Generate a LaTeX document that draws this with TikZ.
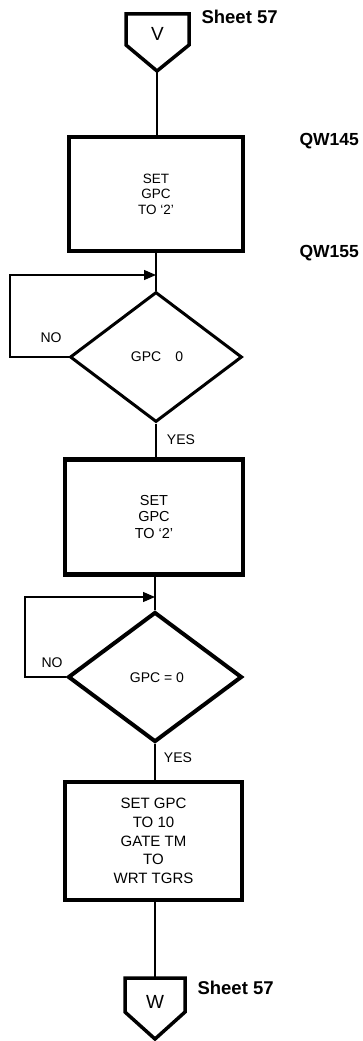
\documentclass[tikz,border=0pt]{standalone}
\usepackage{fontspec}
\setmainfont{Liberation Sans}
\usetikzlibrary{shapes.geometric,arrows.meta}
\begin{document}
\begin{tikzpicture}[x=1pt,y=-1pt,
  procbox/.style={draw,line width=4.5pt,rectangle,inner sep=0pt,align=center},
  decision/.style={draw,diamond,inner sep=0pt},
  conn/.style={line width=1.2pt},
  offpage/.style={line width=3.5pt,line join=miter},
  tag/.style={font=\bfseries\fontsize{17.5}{20}\selectfont,anchor=west},
  lbl/.style={font=\fontsize{14}{16}\selectfont},
  arr/.style={conn,-{Triangle[length=12pt,width=10pt]}}
]
\useasboundingbox (0,0) rectangle (363,1041);
\fill[white] (0,0) rectangle (363,1041);

% off-page connector V
\coordinate (v1) at (126,14);
\coordinate (v2) at (189,14);
\coordinate (v3) at (189,45);
\coordinate (vtip) at (157,71);
\coordinate (v5) at (126,45);
\draw[offpage] (v1) -- (v2) -- (v3) -- (vtip) -- (v5) -- cycle;
\node[font=\fontsize{19}{20}\selectfont] (V) at (157.5,34) {V};
\node[tag,font=\bfseries\fontsize{18.5}{20}\selectfont] (s1) at (198,17) {Sheet 57};

% box 1
\node[procbox,minimum width=174pt,minimum height=114pt,
  font=\fontsize{13.5}{15.5}\selectfont] (b1) at (156,194)
  {SET\\GPC\\TO `2'};
\node[tag] (q1) at (296,141) {QW145};
\node[tag] (q2) at (296,253) {QW155};

% decision 1
\node[decision,line width=3pt,minimum width=172pt,minimum height=130pt,
  aspect=1.32] (d1) at (156,357) {};
\node[font=\fontsize{14}{16}\selectfont] (d1t) at (157,357) {GPC\quad 0};
\node[lbl] (no1) at (51,338) {NO};
\node[lbl] (yes1) at (181,440) {YES};

% box 2
\node[procbox,minimum width=178pt,minimum height=115pt,
  font=\fontsize{14.5}{16.5}\selectfont] (b2) at (154,517)
  {SET\\GPC\\TO `2'};

% decision 2
\node[decision,line width=4pt,minimum width=174pt,minimum height=130pt,
  aspect=1.34] (d2) at (155,677) {};
\node[font=\fontsize{14}{16}\selectfont] (d2t) at (157,678) {GPC = 0};
\node[lbl] (no2) at (52,663) {NO};
\node[lbl] (yes2) at (178,758) {YES};

% box 3
\node[procbox,minimum width=177pt,minimum height=118pt,
  font=\fontsize{15}{18.7}\selectfont] (b3) at (153.5,841)
  {SET GPC\\TO 10\\GATE TM\\TO\\WRT TGRS};

% off-page connector W
\coordinate (w1) at (125,978);
\coordinate (w2) at (185,978);
\coordinate (w3) at (185,1012);
\coordinate (wtip) at (155,1039);
\coordinate (w5) at (125,1012);
\draw[offpage] (w1) -- (w2) -- (w3) -- (wtip) -- (w5) -- cycle;
\node[font=\fontsize{19}{20}\selectfont] (W) at (155,1002) {W};
\node[tag,font=\bfseries\fontsize{18.5}{20}\selectfont] (s2) at (194,988) {Sheet 57};
\coordinate (wtop) at (155,978);

% connectors
\draw[conn] (vtip) -- (b1.north -| vtip);
\draw[conn] (b1.south -| d1.north) -- (d1.north);
\draw[conn] (d1.south) -- (b2.north -| d1.south);
\draw[conn] (b2.south -| d2.north) -- (d2.north);
\draw[conn] (d2.south) -- (b3.north -| d2.south);
\draw[conn] (b3.south -| wtop) -- (wtop);

% NO loops
\coordinate (j1) at (156,275);
\draw[arr] (d1.west) -- (10,357) -- (10,275) -- (j1);
\coordinate (j2) at (155,597);
\draw[arr] (d2.west) -- (25,677) -- (25,597) -- (j2);
\end{tikzpicture}
\end{document}
